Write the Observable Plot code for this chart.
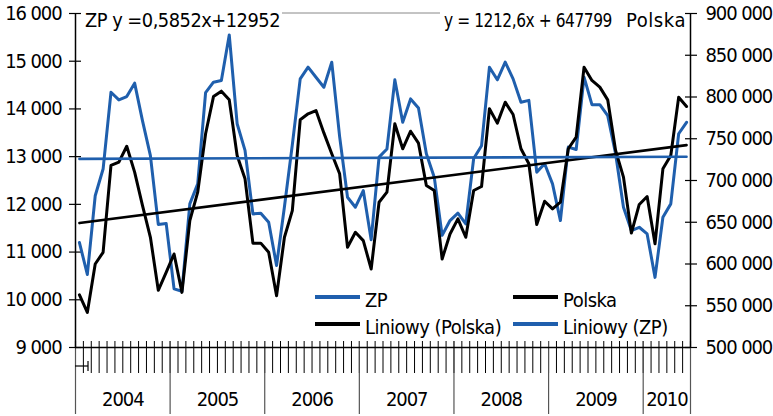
<!DOCTYPE html>
<html>
<head>
<meta charset="utf-8">
<script src="https://cdn.jsdelivr.net/npm/d3@7"></script>
<script src="https://cdn.jsdelivr.net/npm/@observablehq/plot@0.6"></script>
<style>
  html, body { margin: 0; padding: 0; background: #fff; }
  #chart { width: 773px; height: 416px; }
</style>
</head>
<body>
<div id="chart"></div>
<script>
// ---- data ----
const years = ["2004", "2005", "2006", "2007", "2008", "2009", "2010"];
const yearMonths = [12, 12, 12, 12, 12, 12, 6];

const zp = [
  11200, 10530, 12180, 12740, 14350, 14190, 14260, 14540, 13750, 13020, 11580, 11600,
  10230, 10180, 12010, 12430, 14340, 14560, 14595, 15550, 13690, 13130, 11800, 11815,
  11625, 10720, 11950, 13250, 14630, 14875, 14665, 14455, 14980, 13420, 12150, 11940,
  12290, 11260, 12990, 13160, 14610, 13720, 14210, 14020, 13060, 12570, 11350, 11660,
  11815, 11590, 12960, 13230, 14875, 14610, 14980, 14630, 14140, 14180, 12675, 12850,
  12430, 11660, 13200, 13150, 14665, 14090, 14090, 13860, 13060, 11940, 11450, 11520,
  11380, 10470, 11730, 12010, 13480, 13720
];

const polska = [
  563000, 542000, 600000, 614000, 718000, 722000, 741000, 710000, 670000, 632000, 568500, 590000,
  612000, 566000, 652000, 686000, 756000, 800500, 807000, 796600, 730000, 702000, 625000, 625000,
  614000, 562000, 632000, 664000, 772700, 779900, 783800, 757000, 732000, 708000, 620000, 638000,
  628000, 594000, 674000, 686000, 768000, 738000, 759000, 744700, 694000, 688000, 606000, 636000,
  654000, 632000, 688000, 692800, 785900, 768700, 793800, 779000, 738000, 720000, 647300, 675200,
  666000, 674000, 738000, 752000, 835700, 819800, 811800, 796600, 736000, 704000, 637000, 671300,
  680800, 624200, 714000, 730000, 799800, 788600
];

// trend line coefficients shown on the chart
const zpTrend = [0.5852, 12952];
const polskaTrend = [1212.6, 647799];
const trendLabels = ["ZP y =0,5852x+12952", "y = 1212,6x + 647799", "Polska"];

const leftTicks = [9000, 10000, 11000, 12000, 13000, 14000, 15000, 16000];
const rightTicks = [500000, 550000, 600000, 650000, 700000, 750000, 800000, 850000, 900000];
const legendLabels = ["ZP", "Polska", "Liniowy (Polska)", "Liniowy (ZP)"];

// ---- helpers ----
const BLUE = "#1F5FAD";
const FONT = "'DejaVu Sans Condensed', 'Open Sans', sans-serif";
const loc = d3.formatLocale({decimal: ",", thousands: " ", grouping: [3], currency: ["", ""]});
const fmt = loc.format(",d");
const L0 = 9000, L1 = 16000, R0 = 500000, R1 = 900000;
const toLeft = v => L0 + (v - R0) * (L1 - L0) / (R1 - R0);
const fromLeft = v => R0 + (v - L0) * (R1 - R0) / (L1 - L0);

const n = zp.length;
const zpData = zp.map((v, i) => ({x: i + 0.5, y: v}));
const plData = polska.map((v, i) => ({x: i + 0.5, y: toLeft(v)}));
const zpTrendData = [1, n].map(k => ({x: k - 0.5, y: zpTrend[0] * k + zpTrend[1]}));
const plTrendData = [1, n].map(k => ({x: k - 0.5, y: toLeft(polskaTrend[0] * k + polskaTrend[1])}));

const yearStarts = [];
const yearCenters = [];
let acc = 0;
yearMonths.forEach((m, i) => { yearStarts.push(acc); yearCenters.push({x: acc + m / 2, t: years[i]}); acc += m; });
yearStarts.push(acc);
const monthTicks = d3.range(0, acc + 1);

const chart = Plot.plot({
  width: 773,
  height: 416,
  marginLeft: 75,
  marginRight: 83,
  marginTop: 13,
  marginBottom: 69,
  style: {fontFamily: FONT, fontSize: "20px", color: "#000", background: "#fff", overflow: "visible", letterSpacing: "-1.1px"},
  x: {domain: [0, acc]},
  y: {domain: [L0, L1]},
  marks: [
    Plot.axisX({ticks: monthTicks, tickSize: 32, dy: -6, tickFormat: () => "", label: null, strokeWidth: 1}),
    Plot.axisX({ticks: yearStarts, tickSize: 73, dy: -6, tickFormat: () => "", label: null, stroke: "#555", strokeWidth: 1.2}),
    Plot.text(yearCenters, {x: "x", text: "t", frameAnchor: "bottom", dy: 58, fontSize: 20}),
    Plot.ruleY([L0], {strokeWidth: 1.5}),
    Plot.ruleX([0, acc], {y1: L0, y2: L1, strokeWidth: 1.5}),
    Plot.axisY({ticks: leftTicks, tickSize: 12, dx: 6, tickPadding: 8, tickFormat: fmt, label: null, strokeWidth: 1.2, fontSize: 20}),
    Plot.axisY({anchor: "right", ticks: rightTicks.map(toLeft), tickSize: 12, dx: -6, tickPadding: 9,
                tickFormat: d => fmt(Math.round(fromLeft(d))), label: null, strokeWidth: 1.2, fontSize: 20}),
    Plot.line(zpData, {x: "x", y: "y", stroke: BLUE, strokeWidth: 3}),
    Plot.line(plData, {x: "x", y: "y", stroke: "#000", strokeWidth: 3}),
    Plot.line(plTrendData, {x: "x", y: "y", stroke: "#000", strokeWidth: 2.6}),
    Plot.line(zpTrendData, {x: "x", y: "y", stroke: BLUE, strokeWidth: 2.6})
  ]
});

document.getElementById("chart").appendChild(chart);

// ---- annotations & legend ----
const svg = d3.select(chart);
const sx = chart.scale("x");
const g = svg.append("g")
  .attr("font-family", FONT)
  .style("font-size", "20px")
  .style("letter-spacing", "-0.5px")
  .attr("text-anchor", "start")
  .attr("fill", "#000");

// small marker near origin
const ex0 = sx.apply(0), ex1 = sx.apply(1.65);
g.append("line").attr("x1", ex0).attr("x2", ex1).attr("y1", 366).attr("y2", 366).attr("stroke", "#000").attr("stroke-width", 1.2);
g.append("line").attr("x1", ex1).attr("x2", ex1).attr("y1", 361).attr("y2", 371).attr("stroke", "#000").attr("stroke-width", 1.2);

// trend equations
g.append("text").attr("x", 85).attr("y", 27).attr("textLength", 195).attr("lengthAdjust", "spacingAndGlyphs").text(trendLabels[0]);
g.append("line").attr("x1", 282).attr("x2", 440).attr("y1", 13).attr("y2", 13).attr("stroke", "#888").attr("stroke-width", 1);
const eq = g.append("text").attr("y", 27);
eq.append("tspan").attr("x", 444).attr("textLength", 168).attr("lengthAdjust", "spacingAndGlyphs").text(trendLabels[1]);
eq.append("tspan").attr("x", 626).attr("textLength", 59).attr("lengthAdjust", "spacing").text(trendLabels[2]);

// legend
const legend = [
  {x: 315, y: 297, c: BLUE, t: legendLabels[0]},
  {x: 513, y: 297, c: "#000", t: legendLabels[1]},
  {x: 315, y: 324, c: "#000", t: legendLabels[2]},
  {x: 513, y: 324, c: BLUE, t: legendLabels[3]}
];
legend.forEach(d => {
  g.append("line").attr("x1", d.x).attr("x2", d.x + 45).attr("y1", d.y).attr("y2", d.y)
    .attr("stroke", d.c).attr("stroke-width", 4);
  g.append("text").attr("x", d.x + 50).attr("y", d.y + 10).text(d.t);
});
</script>
</body>
</html>
